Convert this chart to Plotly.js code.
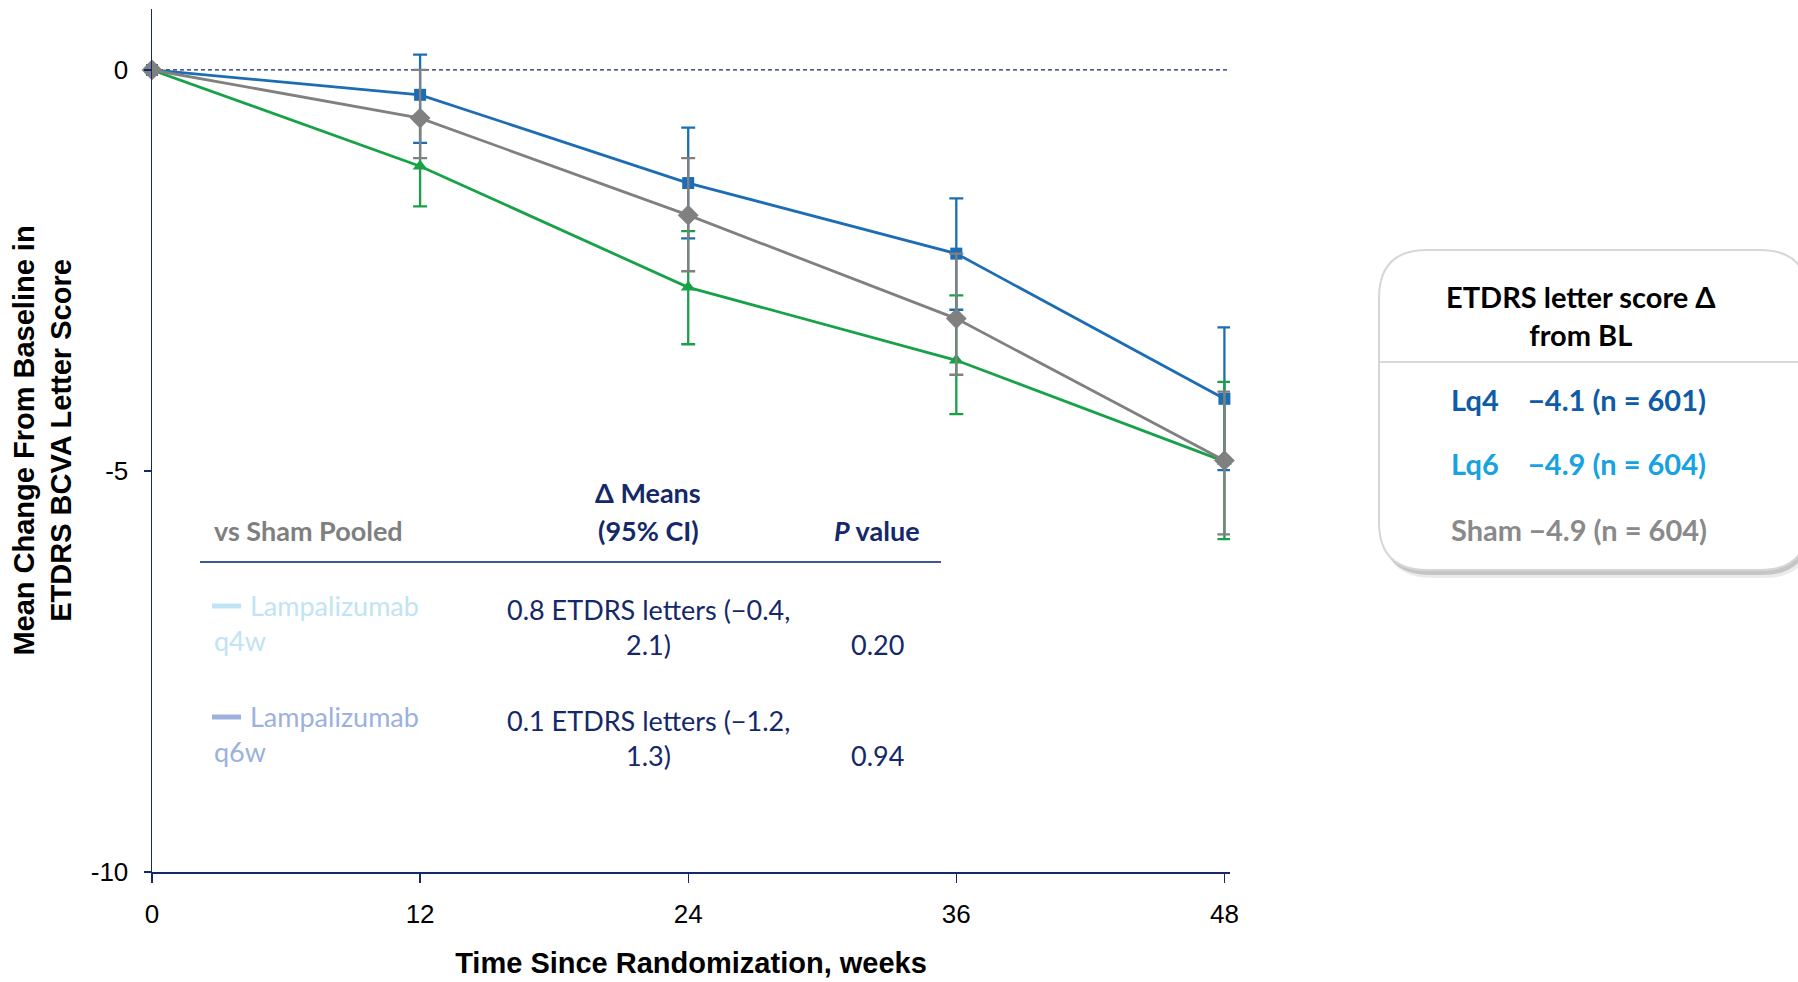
<!DOCTYPE html>
<html>
<head>
<meta charset="utf-8">
<script src="https://cdn.plot.ly/plotly-3.0.1.min.js"></script>
<style>html,body{margin:0;padding:0;background:#fff;}#chart{width:1798px;height:982px;}</style>
</head>
<body>
<div id="chart"></div>
<script>
// ---- data ----
const weeks = [0, 12, 24, 36, 48];
const xTickLabels = ['0', '12', '24', '36', '48'];
const yTickVals = [0, -5, -10];
const yTickLabels = ['0', '-5', '-10'];

const lq4Mean  = [0, -0.31, -1.41, -2.29, -4.10];
const lq4Upper = [0,  0.19, -0.72, -1.60, -3.21];
const lq4Lower = [0, -0.91, -2.10, -2.99, -4.99];

const lq6Mean  = [0, -1.20, -2.71, -3.62, -4.88];
const lq6Upper = [0, -0.61, -2.01, -2.81, -3.89];
const lq6Lower = [0, -1.70, -3.42, -4.29, -5.85];

const shamMean  = [0, -0.60, -1.81, -3.10, -4.87];
const shamUpper = [0,  0.00, -1.10, -2.29, -4.01];
const shamLower = [0, -1.10, -2.51, -3.80, -5.79];

const tableHeader = ['vs Sham Pooled', 'Δ Means', '(95% CI)', '<i>P</i> value'];
const tableRows = [
  {arm: 'Lampalizumab', dose: 'q4w', diff1: '0.8 ETDRS letters (−0.4,', diff2: '2.1)', p: '0.20'},
  {arm: 'Lampalizumab', dose: 'q6w', diff1: '0.1 ETDRS letters (−1.2,', diff2: '1.3)', p: '0.94'}
];
const boxTitle = 'ETDRS letter score Δ<br>from BL';
const boxLabels = ['Lq4', 'Lq6', 'Sham'];
const boxValues = ['−4.1 (n = 601)', '−4.9 (n = 604)', '−4.9 (n = 604)'];

// ---- geometry helpers ----
const W = 1798, H = 982, ML = 152, MR = 568, MT = 9, MB = 110;
const PW = W - ML - MR, PH = H - MT - MB;
const px = x => (x - ML) / PW;
const py = y => (H - MB - y) / PH;

const BLUE = '#1C6DB5', GREEN = '#17A248', GRAY = '#808080', NAVY = '#14286A';
const calibri = 'Lato, "Open Sans", sans-serif';
const narrow = '"Liberation Sans Narrow", "Arial Narrow", "Liberation Sans", Arial, sans-serif';
const TS = 27;

function errs(mean, up, lo) {
  return {
    type: 'data', symmetric: false,
    array: mean.map((m, i) => i === 0 ? NaN : up[i] - m),
    arrayminus: mean.map((m, i) => i === 0 ? NaN : m - lo[i]),
    thickness: 2.3, width: 7
  };
}
function series(mean, up, lo, color, symbol, size) {
  return {
    x: weeks, y: mean, type: 'scatter', mode: 'lines+markers', cliponaxis: false,
    line: {color: color, width: 2.8},
    marker: {color: color, symbol: symbol, size: size},
    error_y: Object.assign(errs(mean, up, lo), {color: color}),
    showlegend: false, hoverinfo: 'x+y'
  };
}

const traces = [
  series(lq4Mean, lq4Upper, lq4Lower, BLUE, 'square', 12),
  series(lq6Mean, lq6Upper, lq6Lower, GREEN, 'triangle-up', 13),
  series(shamMean, shamUpper, shamLower, GRAY, 'diamond', 16)
];

function roundRect(x0, y0, x1, y1, r) {
  return `M ${px(x0 + r)},${py(y0)} L ${px(x1 - r)},${py(y0)} Q ${px(x1)},${py(y0)} ${px(x1)},${py(y0 + r)} ` +
         `L ${px(x1)},${py(y1 - r)} Q ${px(x1)},${py(y1)} ${px(x1 - r)},${py(y1)} ` +
         `L ${px(x0 + r)},${py(y1)} Q ${px(x0)},${py(y1)} ${px(x0)},${py(y1 - r)} ` +
         `L ${px(x0)},${py(y0 + r)} Q ${px(x0)},${py(y0)} ${px(x0 + r)},${py(y0)} Z`;
}

const shapes = [
  {type: 'line', xref: 'paper', yref: 'y', x0: 0, x1: 1, y0: 0, y1: 0,
   line: {color: NAVY, width: 1.3, dash: '4px,3px'}, layer: 'below'},
  {type: 'line', xref: 'paper', yref: 'paper', x0: px(200), x1: px(941), y0: py(562), y1: py(562),
   line: {color: '#3B5894', width: 2}},
  {type: 'line', xref: 'paper', yref: 'paper', x0: px(212), x1: px(241), y0: py(606), y1: py(606),
   line: {color: '#C0E4F5', width: 5}},
  {type: 'line', xref: 'paper', yref: 'paper', x0: px(212), x1: px(241), y0: py(717), y1: py(717),
   line: {color: '#9CB1DE', width: 5}},
  {type: 'path', xref: 'paper', yref: 'paper', path: roundRect(1384, 258, 1812, 578, 48),
   fillcolor: 'rgba(0,0,0,0.08)', line: {width: 0}},
  {type: 'path', xref: 'paper', yref: 'paper', path: roundRect(1382, 255, 1810, 575, 48),
   fillcolor: 'rgba(0,0,0,0.16)', line: {width: 0}},
  {type: 'path', xref: 'paper', yref: 'paper', path: roundRect(1379, 250, 1808, 570, 48),
   fillcolor: '#ffffff', line: {color: '#D6D6D6', width: 2}},
  {type: 'line', xref: 'paper', yref: 'paper', x0: px(1380), x1: px(1808), y0: py(362), y1: py(362),
   line: {color: '#D9D9D9', width: 2}}
];

function ann(text, x, y, opts) {
  return Object.assign({text: text, xref: 'paper', yref: 'paper', x: px(x), y: py(y),
    showarrow: false, xanchor: 'center', yanchor: 'middle',
    font: {family: calibri, size: TS, color: NAVY}}, opts || {});
}

const annotations = [
  ann('<b>' + tableHeader[0] + '</b>', 212, 530, {xanchor: 'left', font: {family: calibri, size: TS, color: '#7F7F7F'}}),
  ann('<b>' + tableHeader[1] + '</b>', 648, 493),
  ann('<b>' + tableHeader[2] + '</b>', 648, 530),
  ann('<b>' + tableHeader[3] + '</b>', 877, 530),
  ann(tableRows[0].arm, 248, 605, {xanchor: 'left', font: {family: calibri, size: TS, color: '#C0E4F5'}}),
  ann(tableRows[0].dose, 212, 640, {xanchor: 'left', font: {family: calibri, size: TS, color: '#C0E4F5'}}),
  ann(tableRows[0].diff1, 648, 609),
  ann(tableRows[0].diff2, 648, 644),
  ann(tableRows[0].p, 877, 644),
  ann(tableRows[1].arm, 248, 716, {xanchor: 'left', font: {family: calibri, size: TS, color: '#9CB1DE'}}),
  ann(tableRows[1].dose, 212, 751, {xanchor: 'left', font: {family: calibri, size: TS, color: '#9CB1DE'}}),
  ann(tableRows[1].diff1, 648, 720),
  ann(tableRows[1].diff2, 648, 755),
  ann(tableRows[1].p, 877, 755),
  ann('<b>' + boxTitle + '</b>', 1581, 316, {font: {family: calibri, size: 29, color: '#000000'}}),
  ann('<b>' + boxLabels[0] + '</b>', 1449, 399, {xanchor: 'left', font: {family: calibri, size: 29, color: '#0F5BA6'}}),
  ann('<b>' + boxValues[0] + '</b>', 1526, 399, {xanchor: 'left', font: {family: calibri, size: 29, color: '#0F5BA6'}}),
  ann('<b>' + boxLabels[1] + '</b>', 1449, 463, {xanchor: 'left', font: {family: calibri, size: 29, color: '#17A2E2'}}),
  ann('<b>' + boxValues[1] + '</b>', 1526, 463, {xanchor: 'left', font: {family: calibri, size: 29, color: '#17A2E2'}}),
  ann('<b>' + boxLabels[2] + ' ' + boxValues[2] + '</b>', 1449, 529, {xanchor: 'left', font: {family: calibri, size: 29, color: '#8A8A8A'}})
];

const layout = {
  width: W, height: H,
  margin: {l: ML, r: MR, t: MT, b: MB},
  paper_bgcolor: '#ffffff', plot_bgcolor: '#ffffff',
  showlegend: false,
  xaxis: {
    range: [0, 48.25], tickvals: weeks, ticktext: xTickLabels,
    showgrid: false, zeroline: false, showline: true, linecolor: NAVY, linewidth: 2,
    ticks: 'outside', ticklen: 9, tickcolor: NAVY, tickwidth: 1.3,
    tickfont: {family: narrow, size: 26, color: '#000'},
    ticklabelstandoff: 9,
    title: {text: 'Time Since Randomization, weeks', standoff: 24,
            font: {family: narrow, size: 29, color: '#000', weight: 'bold'}}
  },
  yaxis: {
    range: [-10, 0.76], tickvals: yTickVals, ticktext: yTickLabels,
    showgrid: false, zeroline: false, showline: true, linecolor: NAVY, linewidth: 1.5,
    ticks: 'outside', ticklen: 7, tickcolor: NAVY, tickwidth: 1.3,
    tickfont: {family: narrow, size: 26, color: '#000'},
    ticklabelstandoff: 10,
    title: {text: 'Mean Change From Baseline in<br>ETDRS BCVA Letter Score', standoff: 10,
            font: {family: '"Liberation Sans", Arial, sans-serif', size: 29, color: '#000', weight: 'bold'}}
  },
  shapes: shapes,
  annotations: annotations
};

Plotly.newPlot('chart', traces, layout, {staticPlot: true, displayModeBar: false});
</script>
</body>
</html>
